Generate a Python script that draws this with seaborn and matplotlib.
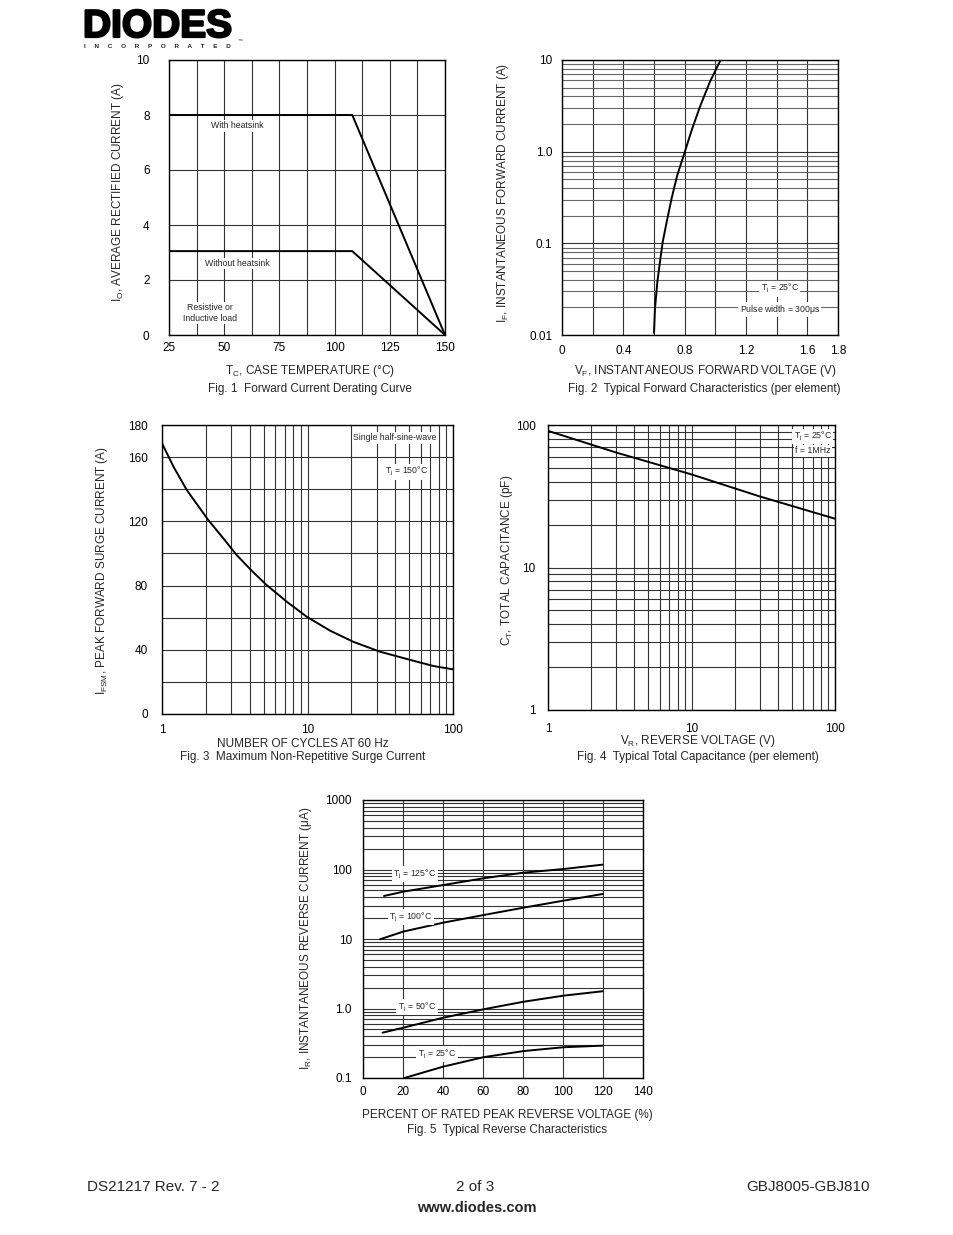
import numpy as np
import pandas as pd
import seaborn as sns
import matplotlib.pyplot as plt
import matplotlib.patheffects as pe
from matplotlib.ticker import LogLocator, NullFormatter, FixedLocator

sns.set_style("white")
plt.rcParams['font.family'] = ['Liberation Sans', 'DejaVu Sans']
plt.rcParams['mathtext.fontset'] = 'custom'
plt.rcParams['mathtext.rm'] = 'Liberation Sans'
plt.rcParams['mathtext.it'] = 'Liberation Sans:italic'
plt.rcParams['mathtext.sf'] = 'Liberation Sans'

# ---- Fig 1 : derating curve
tc_with = [25, 108, 150]
io_with = [8, 8, 0]
tc_without = [25, 108, 150]
io_without = [3.05, 3.05, 0]

# ---- Fig 2 : forward characteristics
vf = [0.600, 0.6065, 0.622, 0.639, 0.657, 0.683, 0.715, 0.752, 0.798, 0.846, 0.900, 0.965, 1.037]
if_fwd = [0.0105, 0.0196, 0.038, 0.063, 0.104, 0.172, 0.31, 0.556, 0.96, 1.72, 3.1, 5.8, 10.2]

# ---- Fig 3 : surge current
cycles = [1, 1.2, 1.48, 2.08, 2.64, 3.26, 4.13, 5.24, 7.19, 9.87, 14.3, 20.6, 31.5, 53.3, 73.3, 100]
ifsm = [168.6, 154, 139.5, 120.8, 109.4, 99, 89.3, 80.3, 70, 60.6, 51.9, 45, 38.8, 33.2, 29.9, 27.8]

# ---- Fig 4 : capacitance
vr = [1, 3, 10, 30, 100]
ct = [91, 64, 45, 31.5, 22]

# ---- Fig 5 : reverse characteristics
pct_125 = [10.5, 20.2, 40.2, 60.2, 80.2, 100.2, 119.8]
ir_125 = [41.6, 48, 59.8, 74.7, 90, 101.6, 117.4]
pct_100 = [8.5, 20.2, 40.2, 60.2, 80.2, 100.2, 119.8]
ir_100 = [9.9, 12.8, 17.2, 22.1, 28.2, 35.6, 44.4]
pct_50 = [9.8, 20.2, 40.2, 60.2, 80.2, 100.2, 119.8]
ir_50 = [0.449, 0.53, 0.738, 0.973, 1.25, 1.53, 1.77]
pct_25 = [20.7, 40.2, 60.2, 80.2, 100.2, 119.8]
ir_25 = [0.1, 0.146, 0.199, 0.244, 0.277, 0.292]

W, H = 954, 1235
fig = plt.figure(figsize=(W / 100, H / 100), dpi=100)
FS = 8.5
ANN = 6.3
GRID = dict(color='#333333', linewidth=0.8)
box = dict(facecolor='white', edgecolor='none', pad=1.0)


def px_axes(l, t, r, b):
    ax = fig.add_axes([l / W, 1 - b / H, (r - l) / W, (b - t) / H])
    for s in ax.spines.values():
        s.set_color('black')
        s.set_linewidth(1.0)
    ax.tick_params(length=0, labelsize=FS, colors='black')
    return ax


def ftext(x, y, s, **kw):
    kw.setdefault('fontsize', FS)
    return fig.text(x / W, 1 - y / H, s, ha=kw.pop('ha', 'center'), va=kw.pop('va', 'center'), **kw)


def curve(ax, x, y):
    sns.lineplot(x=x, y=y, ax=ax, color='black', linewidth=1.4, sort=False, estimator=None)


# ---------------- Fig 1
ax1 = px_axes(169, 60, 445, 335)
curve(ax1, tc_with, io_with)
curve(ax1, tc_without, io_without)
ax1.set_xlim(25, 150)
ax1.set_ylim(0, 10)
ax1.set_xticks([25, 50, 75, 100, 125, 150])
ax1.xaxis.set_minor_locator(FixedLocator([37.5, 62.5, 87.5, 112.5, 137.5]))
ax1.set_yticks([0, 2, 4, 6, 8, 10])
ax1.grid(True, which='both', **GRID)
ax1.tick_params(axis='y', pad=14)
ax1.tick_params(axis='x', pad=5)
ax1.text(56, 7.6, 'With heatsink', fontsize=ANN, ha='center', va='center', bbox=box)
ax1.text(56, 2.6, 'Without heatsink', fontsize=ANN, ha='center', va='center', bbox=box)
ax1.text(43.5, 0.8, 'Resistive or\nInductive load', fontsize=ANN, ha='center', va='center',
         bbox=box, linespacing=1.3)
ftext(118, 192, r'I$_\mathregular{O}$, AVERAGE RECTIFIED CURRENT (A)', rotation=90)
ftext(310, 371, r'T$_\mathregular{C}$, CASE TEMPERATURE ($\degree$C)')
ftext(310, 389, 'Fig. 1  Forward Current Derating Curve')

# ---------------- Fig 2
ax2 = px_axes(562, 60, 838, 335)
curve(ax2, vf, if_fwd)
ax2.set_yscale('log')
ax2.set_xlim(0, 1.8)
ax2.set_ylim(0.01, 10)
ax2.set_xticks(np.arange(0, 1.81, 0.2))
ax2.set_xticklabels(['0', '', '0.4', '', '0.8', '', '1.2', '', '1.6', '1.8'])
ax2.set_yticks([0.01, 0.1, 1, 10])
ax2.set_yticklabels(['0.01', '0.1', '1.0', '10'])
ax2.yaxis.set_minor_locator(LogLocator(base=10, subs=np.arange(2, 10)))
ax2.yaxis.set_minor_formatter(NullFormatter())
ax2.grid(True, which='major', **GRID)
ax2.grid(True, which='minor', axis='y', color='#666666', linewidth=0.8)
ax2.tick_params(axis='y', pad=7)
ax2.tick_params(axis='x', pad=7)
ax2.text(1.42, 0.032, r'T$_\mathregular{j}$ = 25$\degree$C', fontsize=ANN, ha='center', va='center', bbox=box)
ax2.text(1.42, 0.019, r'Pulse width = 300$\mathregular{\mu}$s', fontsize=ANN, ha='center', va='center', bbox=box)
ftext(503, 193, r'I$_\mathregular{F}$, INSTANTANEOUS FORWARD CURRENT (A)', rotation=90)
ftext(705, 371, r'V$_\mathregular{F}$, INSTANTANEOUS FORWARD VOLTAGE (V)')
ftext(704, 389, 'Fig. 2  Typical Forward Characteristics (per element)')

# ---------------- Fig 3
ax3 = px_axes(162, 425, 453, 714)
curve(ax3, cycles, ifsm)
ax3.set_xscale('log')
ax3.set_xlim(1, 100)
ax3.set_ylim(0, 180)
ax3.set_xticks([1, 10, 100])
ax3.set_xticklabels(['1', '10', '100'])
ax3.xaxis.set_minor_locator(LogLocator(base=10, subs=np.arange(2, 10)))
ax3.xaxis.set_minor_formatter(NullFormatter())
ax3.set_yticks([0, 40, 80, 120, 160, 180])
ax3.yaxis.set_minor_locator(FixedLocator([20, 60, 100, 140]))
ax3.grid(True, which='both', **GRID)
ax3.tick_params(axis='y', pad=10)
ax3.tick_params(axis='x', pad=7)
ax3.text(40, 172, 'Single half-sine-wave', fontsize=ANN, ha='center', va='center', bbox=box)
ax3.text(48, 151, r'T$_\mathregular{j}$ = 150$\degree$C', fontsize=ANN, ha='center', va='center', bbox=box)
ftext(102, 571, r'I$_\mathregular{FSM}$, PEAK FORWARD SURGE CURRENT (A)', rotation=90)
ftext(303, 744, 'NUMBER OF CYCLES AT 60 Hz')
ftext(303, 757, 'Fig. 3  Maximum Non-Repetitive Surge Current')

# ---------------- Fig 4
ax4 = px_axes(548, 425, 835, 710)
curve(ax4, vr, ct)
ax4.set_xscale('log')
ax4.set_yscale('log')
ax4.set_xlim(1, 100)
ax4.set_ylim(1, 100)
ax4.set_xticks([1, 10, 100])
ax4.set_xticklabels(['1', '10', '100'])
ax4.set_yticks([1, 10, 100])
ax4.set_yticklabels(['1', '10', '100'])
for a in (ax4.xaxis, ax4.yaxis):
    a.set_minor_locator(LogLocator(base=10, subs=np.arange(2, 10)))
    a.set_minor_formatter(NullFormatter())
ax4.grid(True, which='both', **GRID)
ax4.tick_params(axis='y', pad=9)
ax4.tick_params(axis='x', pad=9)
ax4.text(70, 83, r'T$_\mathregular{j}$ = 25$\degree$C', fontsize=ANN, ha='center', va='center', bbox=box)
ax4.text(70, 66, 'f = 1MHz', fontsize=ANN, ha='center', va='center', bbox=box)
ftext(507, 560, r'C$_\mathregular{T}$, TOTAL CAPACITANCE (pF)', rotation=90)
ftext(698, 741, r'V$_\mathregular{R}$, REVERSE VOLTAGE (V)')
ftext(698, 757, 'Fig. 4  Typical Total Capacitance (per element)')

# ---------------- Fig 5
ax5 = px_axes(363, 800, 643, 1078)
for xs, ys in [(pct_125, ir_125), (pct_100, ir_100), (pct_50, ir_50), (pct_25, ir_25)]:
    curve(ax5, xs, ys)
ax5.set_yscale('log')
ax5.set_xlim(0, 140)
ax5.set_ylim(0.1, 1000)
ax5.set_xticks(np.arange(0, 141, 20))
ax5.set_yticks([0.1, 1, 10, 100, 1000])
ax5.set_yticklabels(['0.1', '1.0', '10', '100', '1000'])
ax5.yaxis.set_minor_locator(LogLocator(base=10, subs=np.arange(2, 10)))
ax5.yaxis.set_minor_formatter(NullFormatter())
ax5.grid(True, which='both', **GRID)
ax5.tick_params(axis='y', pad=8)
ax5.tick_params(axis='x', pad=6)
ax5.text(26, 85, r'T$_\mathregular{j}$ = 125$\degree$C', fontsize=ANN, ha='center', va='center', bbox=box)
ax5.text(24, 20.5, r'T$_\mathregular{j}$ = 100$\degree$C', fontsize=ANN, ha='center', va='center', bbox=box)
ax5.text(27, 1.05, r'T$_\mathregular{j}$ = 50$\degree$C', fontsize=ANN, ha='center', va='center', bbox=box)
ax5.text(37, 0.22, r'T$_\mathregular{j}$ = 25$\degree$C', fontsize=ANN, ha='center', va='center', bbox=box)
ftext(306, 938, r'I$_\mathregular{R}$, INSTANTANEOUS REVERSE CURRENT ($\mathregular{\mu}$A)', rotation=90)
ftext(507, 1115, 'PERCENT OF RATED PEAK REVERSE VOLTAGE (%)')
ftext(507, 1130, 'Fig. 5  Typical Reverse Characteristics')

# ---------------- page header / footer
logo = ftext(83, 27, 'DIODES', fontsize=28, fontweight='bold', ha='left', color='black')
logo.set_path_effects([pe.withStroke(linewidth=1.6, foreground='black')])
ftext(84, 46, '     '.join('INCORPORATED'), fontsize=4.6, fontweight='bold', ha='left')
ftext(238, 40, '\u2122', fontsize=3.5, ha='left')
ftext(87, 1187, 'DS21217 Rev. 7 - 2', fontsize=11, ha='left')
ftext(475, 1187, '2 of 3', fontsize=11)
ftext(870, 1187, 'GBJ8005-GBJ810', fontsize=11, ha='right')
ftext(477, 1208, 'www.diodes.com', fontsize=10.5, fontweight='bold')

fig.savefig('out.png', dpi=100)
